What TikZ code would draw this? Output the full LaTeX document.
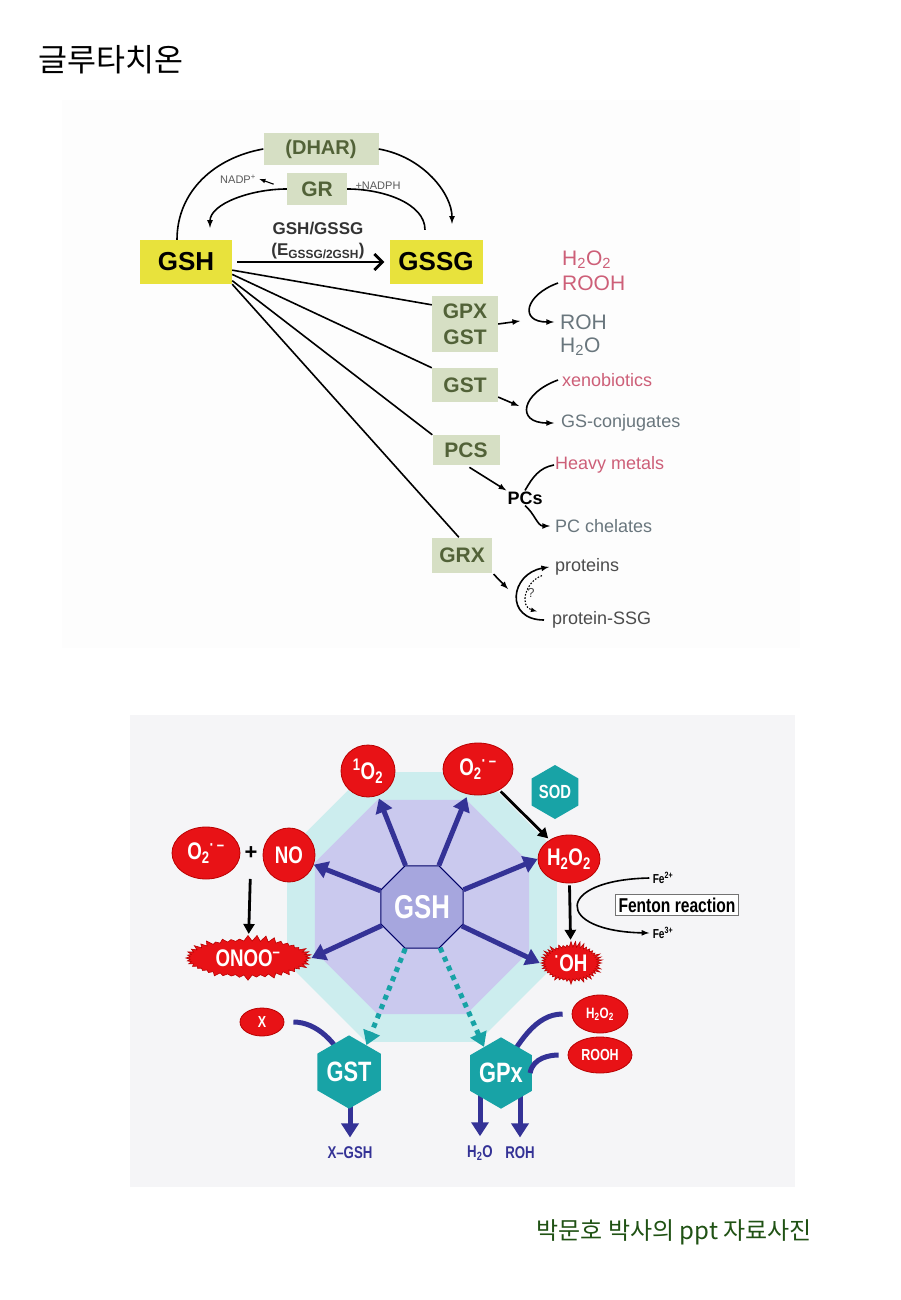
\documentclass[tikz,border=0pt]{standalone}
\usepackage{fontspec}
\setmainfont{Liberation Sans}
\newfontfamily\korfont{Noto Sans CJK KR}
\newfontfamily\narrowfont[FakeStretch=0.78]{Liberation Sans}
\usetikzlibrary{positioning, shapes.geometric, shapes.symbols, arrows.meta, calc}

\definecolor{gshyellow}{RGB}{232,226,60}
\definecolor{enzbox}{RGB}{214,223,196}
\definecolor{enztext}{RGB}{82,98,56}
\definecolor{oxpink}{RGB}{205,95,120}
\definecolor{redgray}{RGB}{105,118,125}
\definecolor{toppanel}{RGB}{253,253,253}
\definecolor{bgpanel}{RGB}{245,245,247}
\definecolor{octcyan}{RGB}{204,237,238}
\definecolor{octlav}{RGB}{202,201,238}
\definecolor{gshblue}{RGB}{166,166,222}
\definecolor{navyarr}{RGB}{52,50,150}
\definecolor{rosred}{RGB}{232,18,22}
\definecolor{rosedge}{RGB}{185,0,0}
\definecolor{tealhex}{RGB}{24,163,166}
\definecolor{notegreen}{RGB}{32,82,20}

\begin{document}
\begin{tikzpicture}[
	x=1pt, y=-1pt,
	nodes = {
		align = center
	},
	lines/.style={
		line width=1.6pt,
		>=latex
	},
	fine lines/.style={
		line width=1.1pt,
		>=latex
	},
	enz/.style={
		rectangle,
		fill=enzbox,
		text=enztext,
		inner sep=0pt,
		font=\fontsize{21}{26}\selectfont\bfseries
	},
	metab/.style={
		rectangle,
		fill=gshyellow,
		inner sep=0pt,
		font=\fontsize{26}{28}\selectfont\bfseries
	},
	subst/.style={
		anchor=west,
		inner sep=0pt,
		font=\fontsize{21}{22}\selectfont
	},
	subst small/.style={
		anchor=west,
		inner sep=0pt,
		font=\fontsize{18}{20}\selectfont
	},
	ros/.style={
		ellipse,
		fill=rosred,
		draw=rosedge,
		line width=0.8pt,
		text=white,
		inner sep=0pt,
		font=\narrowfont\fontsize{24}{26}\selectfont\bfseries
	},
	burst/.style={
		starburst,
		starburst points=44,
		starburst point height=6pt,
		random starburst=7,
		fill=rosred,
		draw=rosedge,
		line width=0.6pt,
		text=white,
		inner sep=0pt,
		font=\narrowfont\fontsize{24}{26}\selectfont\bfseries
	},
	hexa/.style={
		regular polygon,
		regular polygon sides=6,
		shape border rotate=30,
		fill=tealhex,
		text=white,
		inner sep=0pt,
		font=\narrowfont\fontsize{28}{30}\selectfont\bfseries
	},
	octa/.style={
		regular polygon,
		regular polygon sides=8,
		inner sep=0pt
	},
	navy arrow/.style={
		line width=5pt,
		draw=navyarr,
		-{Triangle[length=14pt,width=17pt]}
	},
	navy line/.style={
		line width=5pt,
		draw=navyarr
	},
	teal arrow/.style={
		line width=5pt,
		draw=tealhex,
		dash pattern=on 5pt off 5pt,
		-{Triangle[length=14pt,width=17pt]}
	},
	black arrow/.style={
		line width=2.8pt,
		-{Triangle[length=10pt,width=11pt]}
	},
	navy label/.style={
		text=navyarr,
		font=\narrowfont\fontsize{17}{18}\selectfont\bfseries
	}
]
	\useasboundingbox (0,0) rectangle (900,1300);
	\fill[white] (0,0) rectangle (900,1300);

	\node[anchor=west, font=\korfont\fontsize{31.5}{33}\selectfont] (title) at (35,60) {글루타치온};

	%% upper scheme
	\fill[toppanel] (62,100) rectangle (800,648);

	\node[enz, minimum width=115pt, minimum height=32pt, font=\fontsize{20}{22}\selectfont\bfseries] (dhar) at (321,149) {(DHAR)};
	\node[enz, minimum width=60pt, minimum height=32pt] (gr) at (317,189) {GR};
	\node[metab, minimum width=92pt, minimum height=44pt] (gsh_box) at (186,262) {GSH};
	\node[metab, minimum width=93pt, minimum height=44pt] (gssg_box) at (436,262) {GSSG};

	\node[font=\fontsize{11}{12}\selectfont, text=black!65] (nadp) at (238,179) {NADP\textsuperscript{+}};
	\node[font=\fontsize{11}{12}\selectfont, text=black!65] (nadph) at (378,186) {+NADPH};
	\node[font=\fontsize{17}{18}\selectfont\bfseries, text=black!80] (ratio) at (318,229) {GSH/GSSG};
	\node[font=\fontsize{17}{18}\selectfont\bfseries, text=black!80] (epot) at (318,251) {(E\textsubscript{GSSG/2GSH})};

	\node[enz, minimum width=66pt, minimum height=56pt] (gpx_box) at (465,324) {GPX\\GST};
	\node[enz, minimum width=66pt, minimum height=34pt] (gst_box) at (465,385) {GST};
	\node[enz, minimum width=67pt, minimum height=30pt] (pcs_box) at (466,450) {PCS};
	\node[enz, minimum width=60pt, minimum height=35pt] (grx_box) at (462,555) {GRX};

	\node[subst, text=oxpink] (h2o2_t) at (562,260) {H\textsubscript{2}O\textsubscript{2}};
	\node[subst, text=oxpink] (rooh_t) at (562,283) {ROOH};
	\node[subst, text=redgray] (roh_t) at (560,322) {ROH};
	\node[subst, text=redgray] (h2o_t) at (560,347) {H\textsubscript{2}O};
	\node[subst small, text=oxpink] (xeno) at (562,380) {xenobiotics};
	\node[subst small, text=redgray] (gsconj) at (561,423) {GS-conjugates};
	\node[subst small, text=oxpink] (heavy) at (555,465) {Heavy metals};
	\node[font=\fontsize{18}{20}\selectfont\bfseries, inner sep=1pt] (pcs_t) at (525,498) {PCs};
	\node[subst small, text=redgray] (chel) at (555,526) {PC chelates};
	\node[subst small, text=black!70] (prot) at (555,567) {proteins};
	\node[subst small, text=black!70] (prot_ssg) at (552,620) {protein-SSG};
	\node[font=\fontsize{13}{14}\selectfont, text=black!70] (unk) at (531,593) {?};

	\coordinate (gpx_out) at (520,321);
	\coordinate (gst_out) at (519,406);
	\coordinate (grx_out) at (508,589);

	\draw[lines] ([xshift=-9pt]gsh_box.north) to[out=90, in=190] (dhar.west);
	\draw[lines,->, shorten >=16pt] (dhar.east) to[out=-10, in=90] ([xshift=16pt]gssg_box.north);
	\draw[lines, shorten <=10pt] ([xshift=-11pt]gssg_box.north) to[out=90, in=0] (gr.east);
	\draw[lines,->, shorten >=12pt] (gr.west) to[out=180, in=90] ([xshift=24pt]gsh_box.north);
	\draw[fine lines,->, shorten <=14pt] (gr.west) -- (nadp.east);

	\draw[line width=2.8pt, -{Straight Barb[length=8pt,width=16pt]}, shorten <=5pt, shorten >=5pt] (gsh_box) -- (gssg_box);

	\draw[lines] (gsh_box.-10) -- (gpx_box.150);
	\draw[lines] (gsh_box.-15) -- (gst_box.north west);
	\draw[lines] (gsh_box.-22) -- (pcs_box.north west);
	\draw[lines] (gsh_box.south east) -- (grx_box.100);

	\draw[lines,->] (gpx_box.east) -- (gpx_out);
	\draw[lines,->] (gst_box.-20) -- (gst_out);
	\draw[lines,->, shorten <=4pt] (pcs_box.south) -- (pcs_t.north west);
	\draw[lines,->, shorten <=2pt] (grx_box.south east) -- (grx_out);

	\draw[lines,->] ([xshift=-4pt]rooh_t.west) to[out=200, in=180, looseness=2.3] ([xshift=-6pt]roh_t.west);
	\draw[lines,->] ([xshift=-4pt]xeno.west) to[out=200, in=180, looseness=2.3] ([xshift=-7pt]gsconj.west);
	\draw[lines] (pcs_t.north) to[out=60, in=190] ([xshift=-1pt]heavy.west);
	\draw[lines,->] (pcs_t.south) to[out=-40, in=180] ([xshift=-5pt]chel.west);
	\draw[lines,->] ([xshift=-8pt]prot_ssg.west) to[out=180, in=190, looseness=1.9] ([xshift=-6pt]prot.west);
	\draw[fine lines, dash pattern=on 1.6pt off 1.6pt,->] ([xshift=-13pt]prot.south west) to[out=200, in=165, looseness=1.3] ([xshift=-15pt]prot_ssg.north west);

	%% lower scheme
	\fill[bgpanel] (130,715) rectangle (795,1187);
	\node[octa, fill=octcyan, minimum size=292pt] (halo_out) at (422,907) {};
	\node[octa, fill=octlav, minimum size=232pt] (halo_in) at (422,907) {};
	\node[octa, fill=gshblue, draw=black!60!blue, line width=1pt, minimum size=89pt, text=white, font=\narrowfont\fontsize{33}{34}\selectfont\bfseries] (gsh) at (422,907) {GSH};

	\node[ros, minimum width=54pt, minimum height=52pt] (singlet) at (368,771) {\textsuperscript{1}O\textsubscript{2}};
	\node[ros, minimum width=70pt, minimum height=52pt] (sup_top) at (478,769) {O\textsubscript{2}\textsuperscript{·\,–}};
	\node[hexa, minimum size=54pt, font=\narrowfont\fontsize{19}{20}\selectfont\bfseries] (sod) at (555,792) {SOD};
	\node[ros, minimum width=62pt, minimum height=48pt] (h2o2_r) at (569,859) {H\textsubscript{2}O\textsubscript{2}};
	\node[burst, minimum width=64pt, minimum height=44pt] (oh_r) at (571,963) {\textsuperscript{·}OH};
	\node[ros, minimum width=68pt, minimum height=52pt] (sup_left) at (206,853) {O\textsubscript{2}\textsuperscript{·\,–}};
	\node[font=\fontsize{22}{24}\selectfont\bfseries] (plus) at (251,853) {+};
	\node[ros, minimum width=52pt, minimum height=54pt] (no_r) at (289,855) {NO};
	\node[burst, minimum width=128pt, minimum height=46pt] (onoo) at (248,958) {ONOO\textsuperscript{–}};

	\node[font=\narrowfont\fontsize{13}{14}\selectfont\bfseries] (fe2) at (663,878) {Fe\textsuperscript{2+}};
	\node[font=\narrowfont\fontsize{13}{14}\selectfont\bfseries] (fe3) at (663,933) {Fe\textsuperscript{3+}};
	\node[draw=black!55, fill=white, line width=1pt, inner sep=3pt, font=\narrowfont\fontsize{20}{21}\selectfont\bfseries] (fenton) at (677,905) {Fenton reaction};

	\draw[navy arrow, shorten >=3pt] (gsh) -- (singlet);
	\draw[navy arrow, shorten >=3pt] (gsh) -- (sup_top);
	\draw[navy arrow] (gsh) -- (no_r);
	\draw[navy arrow] (gsh) -- (onoo.east);
	\draw[navy arrow] (gsh) -- (h2o2_r.west);
	\draw[navy arrow] (gsh) -- (oh_r.west);

	\draw[black arrow, shorten <=2pt, shorten >=2pt] (sup_top) -- (h2o2_r);
	\draw[black arrow, shorten <=16pt, shorten >=2pt] (plus) -- (onoo);
	\draw[black arrow, shorten <=2pt, shorten >=2pt] (h2o2_r) -- (oh_r);
	\draw[lines,->] (fe2.west) .. controls +(-95,2) and +(-95,-2) .. (fe3.west);

	\coordinate (gst_c) at (349,1072);
	\coordinate (gpx_c) at (501,1073);
	\node[navy label] (xgsh) at (350,1153) {X–GSH};
	\node[navy label] (h2o_b) at (480,1153) {H\textsubscript{2}O};
	\node[navy label] (roh_b) at (520,1153) {ROH};
	\node[ros, minimum width=44pt, minimum height=28pt, font=\narrowfont\fontsize{16}{18}\selectfont\bfseries] (x_r) at (262,1022) {X};
	\node[ros, minimum width=56pt, minimum height=38pt, font=\narrowfont\fontsize{15}{16}\selectfont\bfseries] (h2o2_s) at (600,1014) {H\textsubscript{2}O\textsubscript{2}};
	\node[ros, minimum width=64pt, minimum height=36pt, font=\narrowfont\fontsize{16}{18}\selectfont\bfseries] (rooh_s) at (600,1055) {ROOH};

	\draw[navy arrow, shorten >=6pt] (xgsh.north |- gst_c) -- (xgsh);
	\draw[navy arrow, shorten >=6pt] (h2o_b.north |- gpx_c) -- (h2o_b);
	\draw[navy arrow, shorten >=6pt] (roh_b.north |- gpx_c) -- (roh_b);
	\draw[navy line, shorten <=9pt] (x_r.east) to[out=0, in=110] (gst_c);
	\draw[navy line, shorten <=9pt] (h2o2_s.west) to[out=180, in=60] (gpx_c);

	\node[hexa, minimum size=64pt] (gst_hex) at (gst_c) {GST};
	\node[hexa, minimum size=64pt] (gpx_hex) at (gpx_c) {GPx};

	\draw[navy line, shorten <=9pt] (rooh_s.west) to[out=180, in=80] ([xshift=-2pt]gpx_hex.east);

	\draw[teal arrow] (gsh) -- (gst_hex.57);
	\draw[teal arrow] (gsh) -- (gpx_hex.123);

	\node[anchor=west, text=notegreen, font=\korfont\fontsize{24}{26}\selectfont] (credit) at (533,1232) {박문호 박사의 ppt 자료사진};
\end{tikzpicture}
\end{document}
